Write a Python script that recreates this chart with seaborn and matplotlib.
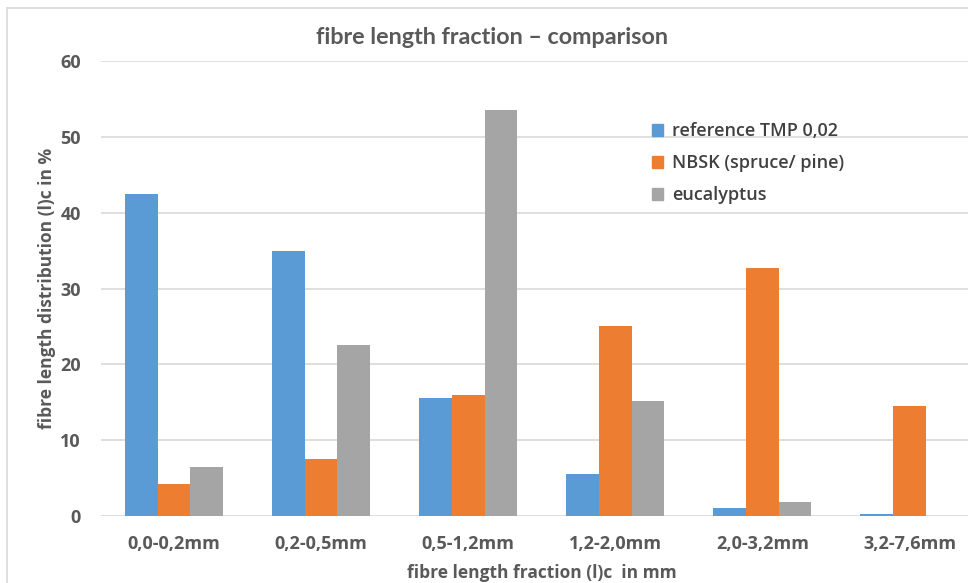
import matplotlib
matplotlib.use("Agg")
import matplotlib.pyplot as plt
import seaborn as sns
import pandas as pd
from matplotlib.patches import Rectangle
from matplotlib.lines import Line2D

categories = ["0,0-0,2mm", "0,2-0,5mm", "0,5-1,2mm", "1,2-2,0mm", "2,0-3,2mm", "3,2-7,6mm"]
series_names = ["reference TMP 0,02", "NBSK (spruce/ pine)", "eucalyptus"]
tmp_values = [42.5, 35.0, 15.6, 5.5, 1.1, 0.2]
nbsk_values = [4.2, 7.5, 15.9, 25.0, 32.7, 14.5]
euca_values = [6.4, 22.6, 53.6, 15.2, 1.9, 0.0]
colors = ["#5B9BD5", "#ED7D31", "#A5A5A5"]
yticks = [0, 10, 20, 30, 40, 50, 60]

rows = []
for name, vals in zip(series_names, [tmp_values, nbsk_values, euca_values]):
    for c, v in zip(categories, vals):
        rows.append({"category": c, "series": name, "value": v})
df = pd.DataFrame(rows)

sns.set_theme(style="white")
plt.rcParams["font.family"] = ["Open Sans", "DejaVu Sans"]

W, H = 968, 583
fig = plt.figure(figsize=(W / 100, H / 100), dpi=100)
ax = fig.add_axes([100.5 / W, 1 - 516 / H, (983 - 100.5) / W, (516 - 61) / H])

sns.barplot(data=df, x="category", y="value", hue="series", order=categories,
            hue_order=series_names, palette=colors, width=0.667, saturation=1,
            ax=ax, legend=False, linewidth=0)

ax.set_ylim(0, 60)
ax.set_xlim(-0.5, len(categories) - 0.5)
ax.set_yticks(yticks)
ax.set_yticklabels([str(t) for t in yticks])
for s in ax.spines.values():
    s.set_visible(False)
ax.yaxis.grid(True, color="#D9D9D9", linewidth=1.2)
ax.set_axisbelow(True)
ax.tick_params(axis="both", length=0, colors="#595959", labelsize=13)
ax.tick_params(axis="x", pad=14)
ax.tick_params(axis="y", pad=14)
for lab in ax.get_xticklabels() + ax.get_yticklabels():
    lab.set_fontweight("bold")
ax.set_xlabel("fibre length fraction (l)c  in mm", fontsize=12.5, fontweight="bold",
              color="#595959", labelpad=7.5)
ax.set_ylabel("fibre length distribution (l)c in %", fontsize=12.5, fontweight="bold",
              color="#595959", labelpad=3)

fig.text(492 / W, 1 - 37 / H, "fibre length fraction – comparison", ha="center", va="center",
         fontsize=16.8, fontweight="bold", color="#595959", family=["Lato", "DejaVu Sans"])

handles = [Rectangle((0, 0), 1, 1, color=c) for c in colors]
leg = fig.legend(handles, series_names, loc="upper left",
                 bbox_to_anchor=(636 / W, 1 - 106 / H), frameon=False,
                 handlelength=0.6, handleheight=0.6, handletextpad=0.5,
                 labelspacing=0.78, fontsize=13)
for t in leg.get_texts():
    t.set_color("#404040")
    t.set_fontweight("semibold")

fig.add_artist(Line2D([6.5 / W, 6.5 / W], [0, 1 - 8 / H], transform=fig.transFigure,
                      color="#D9D9D9", linewidth=1.2))
fig.add_artist(Line2D([6.5 / W, 1], [1 - 8 / H, 1 - 8 / H], transform=fig.transFigure,
                      color="#D9D9D9", linewidth=1.2))

fig.savefig("out.png", dpi=100)
